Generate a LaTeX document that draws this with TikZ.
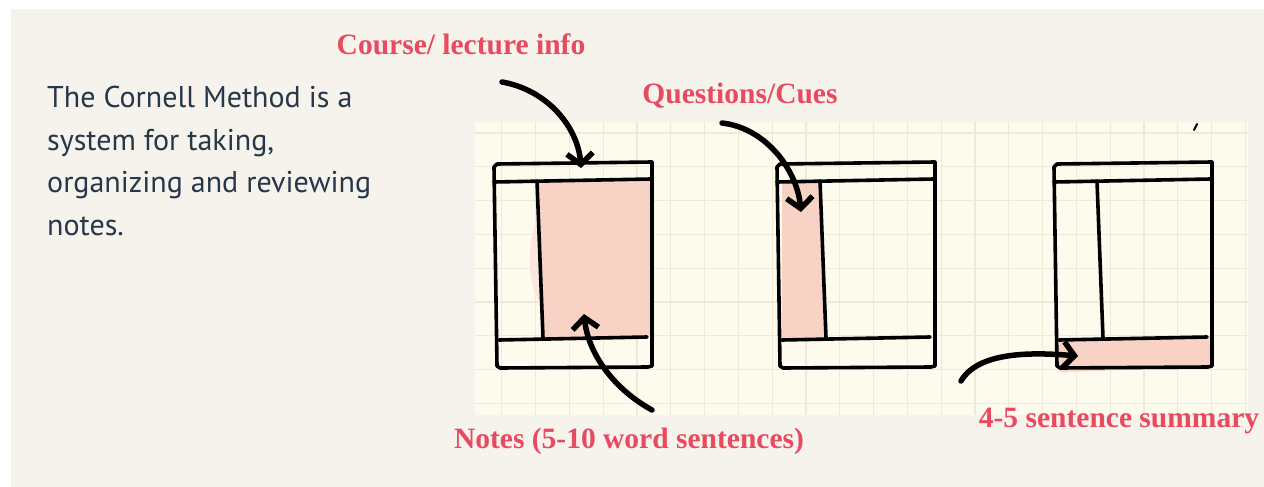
\documentclass[tikz,border=0pt]{standalone}
\usepackage{fontspec}
\setmainfont{Liberation Serif}
\newfontfamily\ptsans{PT Sans}
\usetikzlibrary{arrows.meta,positioning}
\definecolor{cnbeige}{HTML}{F6F2EC}
\definecolor{cnpaper}{HTML}{FDFBEE}
\definecolor{cngrid}{HTML}{EEEAD6}
\definecolor{cnpink}{HTML}{F8D2C4}
\definecolor{cnred}{HTML}{E84A5F}
\definecolor{cnnavy}{HTML}{27374A}

\begin{document}
\begin{tikzpicture}[x=1pt,y=-1pt,>={Straight Barb[length=11pt,width=26pt]},
 lbl/.style={text=cnred,font=\fontsize{29.5}{34}\selectfont\bfseries,inner sep=0pt,anchor=base},
 ink/.style={line width=3.6pt,line cap=round,line join=round},
 cue/.style={->,line width=5.5pt,line cap=round},
 gridline/.style={cngrid,line width=1.2pt}]
\useasboundingbox (0,0) rectangle (1264,487);
\fill[white] (0,0) rectangle (1264,487);
\fill[cnbeige] (11,9) rectangle (1264,487);

% squared paper
\fill[cnpaper] (475,122) rectangle (1248,415);
\foreach \k in {0,...,22}
  \draw[gridline] ({501.7+33.8*\k},122) -- ({501.7+33.8*\k},415);
\foreach \k in {0,...,8}
  \draw[gridline] (475,{133+33.8*\k}) -- (1248,{133+33.8*\k});

% intro text
\node[anchor=base west,align=left,text=cnnavy,inner sep=0pt,
  font=\ptsans\fontsize{30}{42.5}\selectfont] (intro) at (47,235)
  {The Cornell Method is a\\system for taking,\\organizing and reviewing\\notes.};

% highlighted parts
\fill[cnpink] (539,182) -- (650,180) -- (650,336) -- (543,338) -- cycle;
\fill[cnpink!55] (540,215) .. controls (526,240) and (526,280) .. (541,305) -- cycle;
\fill[cnpink] (782,181) -- (818,181) -- (825,338) -- (782,339) -- cycle;
\fill[cnpink] (1055,338) -- (1212,336) -- (1212,367) -- (1060,372) -- cycle;

% the three pages
\foreach \px in {497,780,1057}{
  \begin{scope}[shift={(\px,0)}]
    \draw[ink] (-3,167) -- (0,164) -- (155,162) -- (155,366) -- (151,367) -- (3,368) -- (0,366) -- cycle;
    \draw[ink] (-3,182) -- (154,179);
    \draw[ink] (2,340) -- (150,337);
    \draw[ink] (40,181) -- (46,338);
  \end{scope}
}
\draw[ink,line width=2pt] (1194,130) -- (1197,124);

% labels
\node[lbl] (course) at (461,55) {Course/ lecture info};
\node[lbl] (cues) at (740,103) {Questions/Cues};
\node[lbl] (notes) at (629,448) {Notes (5-10 word sentences)};
\node[lbl] (summary) at (1119,427) {4-5 sentence summary};

% arrows
\coordinate (courseFrom) at (502,82);
\coordinate (courseTo) at (581,168);
\coordinate (cuesFrom) at (722,123);
\coordinate (cuesTo) at (801,212);
\coordinate (notesFrom) at (652,410);
\coordinate (notesTo) at (584,314);
\coordinate (sumFrom) at (961,381);
\coordinate (sumTo) at (1078,356);
\draw[cue] (courseFrom) .. controls (548,90) and (578,128) .. (courseTo);
\draw[cue] (cuesFrom) .. controls (766,128) and (797,170) .. (cuesTo);
\draw[cue] (notesFrom) .. controls (612,388) and (588,352) .. (notesTo);
\draw[cue] (sumFrom) .. controls (978,352) and (1030,352) .. (sumTo);
\end{tikzpicture}
\end{document}
